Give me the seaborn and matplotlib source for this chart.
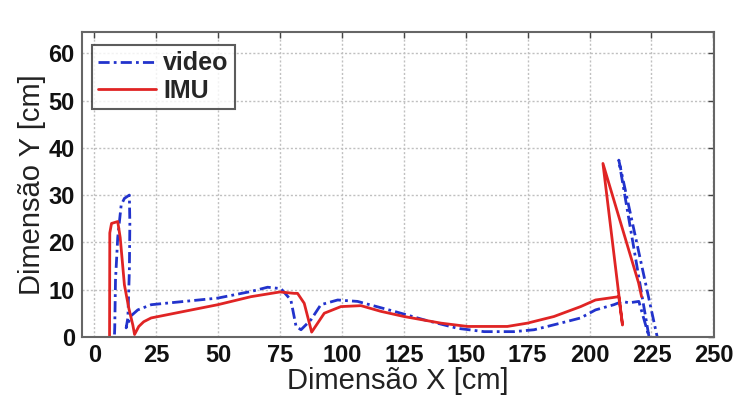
import matplotlib
matplotlib.use("Agg")
import matplotlib.pyplot as plt
import seaborn as sns
import pandas as pd

# ---- data ----
video_x = [8.2, 8.3, 8.6, 9.5, 10.9, 12.2, 14.2, 14.4, 14.2, 13.6, 12.9, 15.0, 17.6, 23.0, 36.4,
           49.9, 63.3, 70.0, 75.4, 79.4, 81.5, 83.5, 87.5, 91.5, 98.3, 106.3, 121.1, 133.2,
           146.7, 157.4, 169.5, 177.6, 188.3, 196.4, 202.4, 209.8, 213.2, 215.9, 219.9, 224.0,
           211.8, 227.3]
video_y = [0.5, 2.0, 12.0, 21.0, 27.9, 29.3, 30.0, 24.0, 14.0, 4.0, 1.9, 4.5, 5.7, 6.8, 7.5,
           8.2, 9.6, 10.5, 10.2, 7.8, 2.2, 1.5, 3.6, 6.8, 7.8, 7.5, 5.4, 3.6,
           1.8, 1.1, 1.1, 1.5, 2.9, 4.0, 5.7, 6.8, 7.5, 7.2, 7.5, 0.0,
           37.4, 0.0]

imu_x = [6.2, 6.3, 7.0, 9.5, 10.5, 12.2, 14.0, 15.6, 16.3, 18.0, 20.0, 23.0, 36.4, 49.9, 63.3,
         75.0, 80.8, 82.1, 84.8, 87.8, 92.9, 99.6, 107.7, 115.7, 125.1, 140.0, 150.7, 166.8,
         174.9, 185.6, 196.4, 202.4, 211.8, 213.3, 205.4, 219.8, 221.0]
imu_y = [0.0, 22.0, 24.0, 24.4, 21.0, 11.0, 6.0, 2.5, 0.5, 2.2, 3.2, 4.0, 5.4, 6.8, 8.5,
         9.5, 9.2, 9.2, 7.1, 1.0, 5.0, 6.4, 6.6, 5.4, 4.3, 2.9, 2.2, 2.2,
         2.9, 4.3, 6.4, 7.8, 8.5, 2.5, 36.7, 11.4, 8.5]

x_ticks = [0, 25, 50, 75, 100, 125, 150, 175, 200, 225, 250]
y_ticks = [0, 10, 20, 30, 40, 50, 60]
series_names = ["video", "IMU"]

video_df = pd.DataFrame({"x": video_x, "y": video_y})
imu_df = pd.DataFrame({"x": imu_x, "y": imu_y})

sns.set_style("white")
plt.rcParams["font.family"] = ["Liberation Sans", "DejaVu Sans"]

fig = plt.figure(figsize=(7.37, 4.01), dpi=100)
ax = fig.add_axes([0.111, 0.160, 0.858, 0.760])

sns.lineplot(data=video_df, x="x", y="y", sort=False, estimator=None, ax=ax,
             color="#2233cc", linewidth=2.0, linestyle=(0, (4, 1.5, 1, 1.5)),
             label=series_names[0])
sns.lineplot(data=imu_df, x="x", y="y", sort=False, estimator=None, ax=ax,
             color="#e02424", linewidth=2.0, label=series_names[1])

ax.set_xlim(-5, 250.3)
ax.set_ylim(0, 64.5)
ax.set_xticks(x_ticks)
ax.set_yticks(y_ticks)
ax.set_xticklabels([str(v) for v in x_ticks], fontsize=17, fontweight="bold")
ax.set_yticklabels([str(v) for v in y_ticks], fontsize=17, fontweight="bold")
ax.tick_params(direction="in", length=4, width=1, top=True, right=True,
               colors="#444444", labelcolor="#111111", pad=5)

ax.grid(True, linestyle=(0, (1.5, 1.5)), color="#c0c0c0", linewidth=1.0)
for sp in ax.spines.values():
    sp.set_visible(True)
    sp.set_color("#666666")
    sp.set_linewidth(1.5)

ax.set_xlabel("Dimensão X [cm]", fontsize=21, color="#222222", labelpad=0)
ax.set_ylabel("Dimensão Y [cm]", fontsize=21, color="#222222", labelpad=2)

leg = ax.legend(loc="upper left", bbox_to_anchor=(0.0, 0.99),
                prop={"weight": "bold", "size": 18}, frameon=True, fancybox=False,
                edgecolor="#333333", handlelength=2.3, handletextpad=0.3,
                borderpad=0.25, labelspacing=0.15, borderaxespad=0.4)
leg.get_frame().set_linewidth(1.5)

fig.savefig("out.png", dpi=100, facecolor="white")
